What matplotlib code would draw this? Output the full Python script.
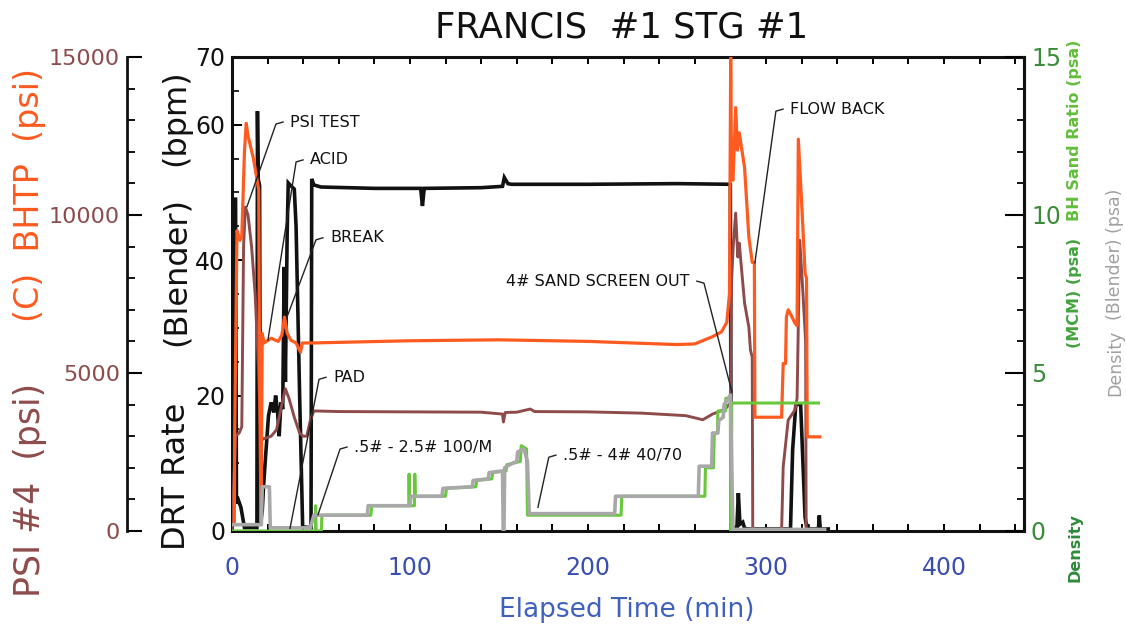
import matplotlib
matplotlib.use("Agg")
import matplotlib.pyplot as plt
from matplotlib.ticker import MultipleLocator

# ---------------- data ----------------
# DRT Rate (Blender) (bpm) - black
drt_t = [0, 0.3, 2.0, 2.5, 3.0, 5.0, 6.0, 7.0, 14.0, 14.3, 14.7, 15.5, 16.0, 17.0, 17.7,
         19.0, 20.5, 22.0, 23.5, 24.5, 25.5, 26.5, 27.5, 28.5, 29.3, 30.0, 31.0, 31.6,
         33.0, 35.0, 36.0, 38.0, 39.7, 44.4, 44.8, 46.0, 50.0, 80.0, 106.0, 107.0, 108.0,
         140.0, 152.0, 153.0, 155.0, 157.0, 200.0, 250.0, 280.0, 280.5, 281.5, 283.7, 284.5,
         285.4, 287.0, 288.0, 290.0, 313.8, 315.0, 316.8, 319.5, 322.0, 323.0, 323.4, 324.0,
         329.5, 330.0, 330.5, 335.0]
drt_v = [0, 49, 49, 4, 5, 3.5, 2, 0.5, 0.5, 62, 52, 51, 1, 3, 6.5,
         11.5, 17, 19, 17.5, 20, 18, 14, 19, 18, 39, 22, 44, 51.4,
         51, 50.5, 45, 20, 0.6, 0.5, 52, 51.1, 50.8, 50.6, 50.6, 48, 50.6,
         50.7, 50.9, 52.2, 51.3, 51.2, 51.2, 51.3, 51.2, 0.5, 0.4, 0.6, 5.6,
         1.0, 1.3, 0.4, 0.3, 0.3, 12, 18.7, 18.7, 2, 0.5, 1.0, 0.3,
         0.3, 2.3, 0.3, 0.3]

# (C) BHTP (psi) - orange
bhtp_t = [1.3, 1.5, 2.8, 4.5, 5.5, 7.0, 8.0, 9.0, 12.0, 15.0, 15.5, 16.3, 17.0, 18.0,
          22.0, 26.0, 28.0, 29.5, 31.0, 33.0, 36.0, 38.5, 39.5, 45.0, 60.0, 100.0, 150.0,
          200.0, 250.0, 260.0, 270.0, 275.0, 278.0, 279.5, 280.2, 280.7, 281.5, 283.0,
          284.0, 285.0, 288.0, 290.4, 292.3, 293.5, 293.8, 308.8, 309.7, 311.0, 311.5,
          312.5, 314.4, 316.3, 317.5, 318.2, 320.0, 322.0, 322.8, 323.2, 330.3]
bhtp_v = [300, 3000, 9500, 9200, 9300, 12000, 12900, 12500, 11800, 10800, 5000, 300, 6250, 5950,
          6100, 6000, 6200, 6770, 6260, 6040, 5950, 5660, 5950, 5950, 5970, 6020, 6050,
          6000, 5900, 5920, 6150, 6300, 6600, 7500, 15000, 11200, 11100, 13400,
          12050, 12600, 11500, 9300, 8500, 8500, 3600, 3600, 5300, 5300, 6770,
          7000, 6800, 6580, 6500, 12400, 10470, 8160, 8000, 2980, 2980]

# PSI #4 (psi) - brown
psi4_t = [0, 1.0, 2.0, 4.0, 5.5, 6.5, 7.5, 9.0, 11.0, 13.0, 15.0, 16.0, 17.0, 22.0, 25.0,
          28.0, 30.0, 32.0, 35.0, 38.0, 40.0, 42.0, 44.0, 46.0, 60.0, 100.0, 140.0, 152.0,
          152.5, 153.5, 160.0, 167.6, 170.0, 200.0, 230.0, 255.0, 264.5, 270.0, 277.0, 280.0,
          280.7, 281.6, 283.0, 284.2, 285.0, 288.0, 290.4, 291.3, 292.3, 292.6, 308.8, 309.7,
          312.5, 316.3, 317.5, 319.0, 320.8, 322.3, 322.6, 333.0]
psi4_v = [0, 1500, 3000, 3100, 3300, 9000, 10250, 10000, 9000, 7500, 5000, 3200, 2900, 3000, 3200,
          4000, 4500, 4200, 3600, 3100, 3000, 3000, 3500, 3800, 3780, 3770, 3760, 3700,
          3450, 3750, 3760, 3860, 3780, 3770, 3730, 3650, 3520, 3700, 3850, 4050,
          7900, 9000, 10060, 8670, 9110, 7210, 6450, 5730, 5500, 0, 0, 2030,
          3510, 3830, 4200, 9200, 7530, 6000, 0, 0]

# BH Sand Ratio (psa) - green
sand_t = [0, 46.8, 47.0, 47.3, 50.2, 50.5, 78.0, 78.5, 99.3, 99.5, 99.8, 102.5, 102.7, 103.0,
          120.0, 120.5, 137.0, 137.5, 146.0, 146.5, 154.0, 154.5, 162.0, 162.5, 165.5, 166.0,
          218.6, 219.0, 265.7, 266.0, 270.5, 271.0, 272.8, 273.0, 277.3, 277.5, 280.0, 280.2,
          280.6, 280.8, 329.5]
sand_v = [0, 0, 0.8, 0, 0, 0.5, 0.5, 0.8, 0.8, 1.8, 0.8, 0.8, 1.8, 1.1,
          1.1, 1.35, 1.4, 1.6, 1.65, 1.85, 1.9, 2.1, 2.2, 2.7, 2.6, 0.5,
          0.5, 1.1, 1.1, 2.0, 2.0, 3.1, 3.1, 3.8, 3.8, 4.2, 4.2, 0,
          0, 4.05, 4.05]

# Density (Blender) (psa) - gray
dens_t = [0, 16.5, 17.0, 21.0, 21.5, 44.0, 45.0, 46.0, 49.0, 76.0, 76.5, 100.0, 100.5,
          118.0, 118.5, 135.0, 135.5, 144.0, 144.5, 152.0, 152.4, 152.8, 153.2, 156.0, 160.0,
          160.5, 164.0, 166.0, 167.0, 215.0, 215.5, 262.0, 262.5, 269.5, 270.0, 273.0, 273.5,
          276.0, 276.5, 280.0, 281.5, 333.0]
dens_v = [0.2, 0.2, 1.4, 1.4, 0.1, 0.1, 0.3, 0.5, 0.5, 0.5, 0.8, 0.8, 1.1,
          1.1, 1.35, 1.4, 1.6, 1.65, 1.85, 1.9, 0, 0, 2.0, 2.1, 2.2,
          2.5, 2.6, 2.2, 0.55, 0.55, 1.1, 1.1, 2.05, 2.05, 3.1, 3.1, 3.5,
          3.6, 4.0, 4.3, 0.05, 0.05]

x_ticks = [0, 100, 200, 300, 400]
drt_ticks = [0, 20, 40, 60, 70]
psi_ticks = [0, 5000, 10000, 15000]
right_ticks = [0, 5, 10, 15]

# annotations: (label, text_xy, hook_start, hook_corner, target, ha) in (min, bpm)
annotations = [
    ("PSI TEST", (32.6, 60.4), (28.7, 60.4), (24.7, 60.1), (8.4, 47.9), "left"),
    ("ACID", (43.8, 54.8), (39.9, 54.8), (36.0, 54.5), (20.2, 28.2), "left"),
    ("BREAK", (55.1, 43.3), (51.1, 43.3), (47.2, 43.0), (30.9, 31.6), "left"),
    ("PAD", (56.7, 22.7), (52.8, 22.7), (48.9, 22.4), (32.6, 0.4), "left"),
    (".5# - 2.5# 100/M", (68.5, 12.3), (64.6, 12.4), (60.7, 12.1), (48.3, 2.4), "left"),
    (".5# - 4# 40/70", (186.0, 11.1), (182.0, 11.2), (178.0, 10.9), (171.9, 3.5), "left"),
    ("4# SAND SCREEN OUT", (257.3, 36.9), (261.2, 36.9), (265.2, 36.6), (280.9, 20.5), "right"),
    ("FLOW BACK", (313.5, 62.3), (309.6, 62.3), (305.6, 62.0), (293.8, 39.6), "left"),
]

# ---------------- colours ----------------
C_BLACK = "#111111"
C_ORANGE = "#FF5A1F"
C_BROWN = "#8E4B4B"
C_GREEN = "#66C83A"
C_GRAY = "#A8A8A8"
C_BLUE = "#3A4DB0"

plt.rcParams['font.family'] = ['DejaVu Sans']

W, H = 1126, 634
fig = plt.figure(figsize=(W / 100, H / 100), dpi=100)
fig.patch.set_facecolor("white")

L, R, B, T = 232, 1024, 531, 57
ax = fig.add_axes([L / W, 1 - B / H, (R - L) / W, (B - T) / H])
axp = ax.twinx()
axr = ax.twinx()

# ---------------- plots ----------------
ax.plot(drt_t, drt_v, color=C_BLACK, lw=2.6, solid_joinstyle="miter")
axp.plot(psi4_t, psi4_v, color=C_BROWN, lw=2.1)
axp.plot(bhtp_t, bhtp_v, color=C_ORANGE, lw=2.3)
axr.plot(sand_t, sand_v, color=C_GREEN, lw=2.2)
axr.plot(dens_t, dens_v, color=C_GRAY, lw=2.6)

ax.set_xlim(0, 445)
ax.set_ylim(0, 70)
axp.set_ylim(0, 15000)
axr.set_ylim(0, 15)

# ---------------- main axis styling ----------------
for s in ax.spines.values():
    s.set_linewidth(2.2)
    s.set_color(C_BLACK)
ax.set_xticks(x_ticks)
ax.xaxis.set_minor_locator(MultipleLocator(20))
ax.set_yticks(drt_ticks)
ax.yaxis.set_minor_locator(MultipleLocator(5))
ax.tick_params(axis="x", which="both", direction="in", top=True, bottom=True,
               length=5, width=1.4, labelsize=17, labelcolor=C_BLUE, pad=18)
ax.tick_params(axis="y", which="major", direction="in", left=True, right=False,
               length=7, width=1.4, labelsize=17, labelcolor=C_BLACK, pad=5)
ax.tick_params(axis="y", which="minor", direction="in", left=True, right=False,
               length=5, width=1.2)

# pressure axis on far left
for k in ("top", "bottom", "right"):
    axp.spines[k].set_visible(False)
axp.spines["left"].set_visible(True)
axp.spines["left"].set_position(("axes", (127 - L) / (R - L)))
axp.spines["left"].set_linewidth(2.0)
axp.spines["left"].set_color(C_BLACK)
axp.yaxis.set_ticks_position("left")
axp.yaxis.set_label_position("left")
axp.set_yticks(psi_ticks)
axp.yaxis.set_minor_locator(MultipleLocator(1000))
axp.tick_params(axis="y", which="major", direction="in", length=11, width=1.5,
                labelsize=16, labelcolor=C_BROWN, pad=5)
axp.tick_params(axis="y", which="minor", direction="in", length=6, width=1.3)

# right axis
for k in ("top", "bottom", "left"):
    axr.spines[k].set_visible(False)
axr.spines["right"].set_linewidth(2.2)
axr.spines["right"].set_color(C_BLACK)
axr.set_yticks(right_ticks)
axr.yaxis.set_minor_locator(MultipleLocator(1))
axr.tick_params(axis="y", which="major", direction="in", length=14, width=1.5,
                labelsize=17, labelcolor="#3A8C3A", pad=5)
axr.tick_params(axis="y", which="minor", direction="in", length=5, width=1.3)

# ---------------- annotations ----------------
for label, txy, h0, h1, tgt, ha in annotations:
    axr.plot([h0[0], h1[0], tgt[0]], [h0[1], h1[1], tgt[1]], transform=ax.transData,
             color="#222222", lw=1.0, clip_on=False, zorder=10)
    axr.text(txy[0], txy[1], label, transform=ax.transData, ha=ha, va="center",
             fontsize=11.5, color="#111111", zorder=11)

# ---------------- titles and axis labels ----------------
def ptext(x, y, s, **kw):
    fig.text(x / W, 1 - y / H, s, **kw)

ptext(622, 27, "FRANCIS  #1 STG #1", ha="center", va="center", fontsize=25.5, color="#111111")
ptext(627, 610, "Elapsed Time (min)", ha="center", va="center", fontsize=19, color="#4060C0")

# left-most pressure labels
ptext(30, 490, "PSI #4  (psi)", rotation=90, ha="center", va="center", fontsize=25, color=C_BROWN)
ptext(30, 195, "(C)  BHTP  (psi)", rotation=90, ha="center", va="center", fontsize=24, color=C_ORANGE)

# DRT label
ptext(176, 476, "DRT Rate", rotation=90, ha="center", va="center", fontsize=23, color="#111111")
ptext(176, 271, "(Blender)", rotation=90, ha="center", va="center", fontsize=23, color="#111111")
ptext(176, 118, "(bpm)", rotation=90, ha="center", va="center", fontsize=23, color="#111111")

# right labels
ptext(1075, 548, "Density", rotation=90, ha="center", va="center", fontsize=11.5,
      fontweight="bold", color="#2E8B3A")
ptext(1075, 293, "(MCM) (psa)", rotation=90, ha="center", va="center", fontsize=11.5,
      fontweight="bold", color="#43A33E")
ptext(1075, 130, "BH Sand Ratio (psa)", rotation=90, ha="center", va="center", fontsize=11.5,
      fontweight="bold", color="#62BE3C")
ptext(1115, 363, "Density", rotation=90, ha="center", va="center", fontsize=12.5, color="#A0A0A0")
ptext(1115, 320, "(Blender) (psa)", rotation=90, ha="center", va="bottom", fontsize=12.5,
      color="#A0A0A0")

fig.savefig("out.png", dpi=100)
